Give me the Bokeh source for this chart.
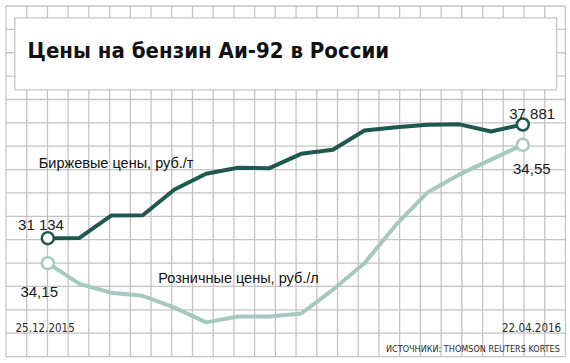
from bokeh.plotting import figure
from bokeh.models import Range1d, ColumnDataSource
from bokeh.core.properties import value
from bokeh.embed import file_html
from bokeh.resources import INLINE

# ---------------- data ----------------
week_index = list(range(16))
date_labels = ["25.12.2015", "22.04.2016"]
exchange_price = [31134, 31150, 32480, 32500, 34020, 34955, 35310, 35290,
                  36140, 36380, 37525, 37720, 37860, 37890, 37470, 37881]
retail_price = [34.15, 34.08, 34.05, 34.04, 34.00, 33.95, 33.97, 33.97,
                33.98, 34.06, 34.15, 34.28, 34.39, 34.45, 34.50, 34.55]
exchange_label = "Биржевые цены, руб./т"
retail_label = "Розничные цены, руб./л"
title_text = "Цены на бензин Аи-92 в России"
source_text = "ИСТОЧНИКИ: THOMSON REUTERS KORTES"

DARK = "#1f584e"
LIGHT = "#a5c9c1"
GRIDC = "#c4c4c4"
NARROW = "DejaVu Sans Condensed, Roboto"

W, H = 568, 360
GX, GY = 20.72, 23.37  # grid cell size in px
X0, Y0 = 5.5, 5.5      # top-left grid line (px)

# main x range (index): first point at px 47.3, last at px 522.3
ppi = (522.3 - 47.3) / 15
x_range = Range1d(-47.3 / ppi, 15 + (W - 522.3) / ppi)
# exchange y range: first value at px 237.7 from top, last at 124.0
e_upp = (37881 - 31134) / (237.7 - 124.0)
y_range = Range1d(31134 - (H - 237.7) * e_upp, 37881 + 124.0 * e_upp)
# retail y range: first value at px 262.7 from top, last at 144.3
r_upp = (34.55 - 34.15) / (262.7 - 144.3)
retail_range = Range1d(34.15 - (H - 262.7) * r_upp, 34.55 + 144.3 * r_upp)

p = figure(width=W, height=H, x_range=x_range, y_range=y_range,
           output_backend="svg", toolbar_location=None, min_border=0,
           x_axis_location=None, y_axis_location=None,
           outline_line_color=None, background_fill_color="white",
           border_fill_color="white")
p.grid.visible = False
nx, ny = 27, 15
gy_bottom = H - (Y0 + ny * GY)
p.extra_x_ranges = {"gx": Range1d(-X0 / GX, (W - X0) / GX)}
p.extra_y_ranges = {"gy": Range1d(-gy_bottom / GY, (H - gy_bottom) / GY),
                    "retail": retail_range}

# background grid
p.segment(x0=list(range(nx + 1)), y0=[0] * (nx + 1), x1=list(range(nx + 1)), y1=[ny] * (nx + 1),
          line_color=GRIDC, line_width=1.3, x_range_name="gx", y_range_name="gy")
p.segment(x0=[0] * (ny + 1), y0=list(range(ny + 1)), x1=[nx] * (ny + 1), y1=list(range(ny + 1)),
          line_color=GRIDC, line_width=1.3, x_range_name="gx", y_range_name="gy")

# title box
p.quad(left=[0.425], right=[26.57], bottom=[11.414], top=[14.495],
       fill_color="white", line_color=GRIDC, line_width=1.3,
       x_range_name="gx", y_range_name="gy")
p.text(x=[1.04], y=[13.096], text=[title_text], text_font=value(NARROW),
       text_font_style="bold", text_font_size="22px", text_color="#111111",
       text_baseline="alphabetic", text_align="left",
       x_range_name="gx", y_range_name="gy")

# lines
p.line(week_index, retail_price, line_color=LIGHT, line_width=4,
       line_join="round", y_range_name="retail")
p.line(week_index, exchange_price, line_color=DARK, line_width=4, line_join="round")

# end markers
ends = [0, 15]
p.scatter([week_index[i] for i in ends], [retail_price[i] for i in ends], size=12,
          fill_color="white", line_color=LIGHT, line_width=2.5, y_range_name="retail")
p.scatter([week_index[i] for i in ends], [exchange_price[i] for i in ends], size=12,
          fill_color="white", line_color=DARK, line_width=2.5)

def fmt_ex(v):
    return f"{v:,}".replace(",", " ")

def fmt_rt(v):
    return f"{v:.2f}".replace(".", ",")

ex_src = ColumnDataSource(dict(x=[week_index[i] for i in ends],
                               y=[exchange_price[i] for i in ends],
                               t=[fmt_ex(exchange_price[i]) for i in ends],
                               xo=[-6.8, 9.4], yo=[-13.4, -11.3]))
p.text(x="x", y="y", text="t", x_offset="xo", y_offset="yo", source=ex_src,
       text_font=value("Liberation Sans"), text_font_size="15px", text_color="#1a1a1a",
       text_align="center", text_baseline="alphabetic")
rt_src = ColumnDataSource(dict(x=[week_index[i] for i in ends],
                               y=[retail_price[i] for i in ends],
                               t=[fmt_rt(retail_price[i]) for i in ends],
                               xo=[-8.6, 9.0], yo=[28.3, 24.0]))
p.text(x="x", y="y", text="t", x_offset="xo", y_offset="yo", source=rt_src,
       text_font=value("Liberation Sans"), text_font_size="15px", text_color="#1a1a1a",
       text_align="center", text_baseline="alphabetic", y_range_name="retail")

# series labels
p.text(x=[1.583, 7.346], y=[8.291, 3.353], text=[exchange_label, retail_label],
       text_font=value("Liberation Sans"), text_font_size="14.5px", text_color="#111111",
       text_align="left", text_baseline="alphabetic",
       x_range_name="gx", y_range_name="gy")

# dates
p.text(x=[0.4585], y=[1.256], text=[date_labels[0]], text_font=value(NARROW),
       text_font_size="11.5px", text_color="#2a2a2a", text_align="left",
       text_baseline="alphabetic", x_range_name="gx", y_range_name="gy")
p.text(x=[26.795], y=[1.256], text=[date_labels[1]], text_font=value(NARROW),
       text_font_size="11.5px", text_color="#2a2a2a", text_align="right",
       text_baseline="alphabetic", x_range_name="gx", y_range_name="gy")
p.text(x=[26.728], y=[0.302], text=[source_text], text_font=value(NARROW),
       text_font_size="9px", text_color="#2a2a2a", text_align="right",
       text_baseline="alphabetic", x_range_name="gx", y_range_name="gy")

open("out.html", "w").write(file_html(p, INLINE))
